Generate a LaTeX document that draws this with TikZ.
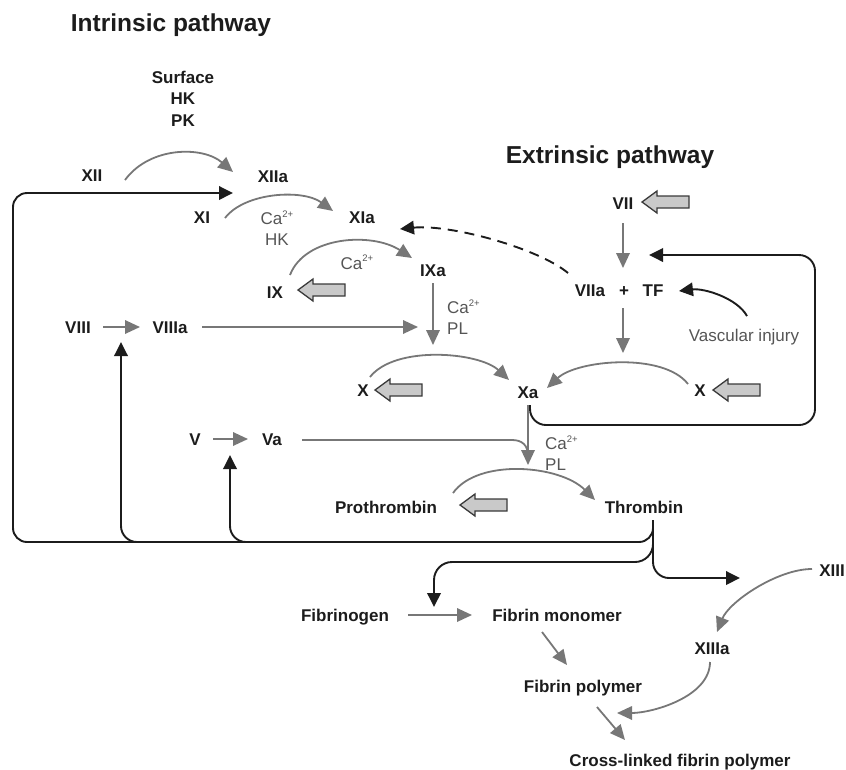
\documentclass[tikz,border=0pt]{standalone}
\usepackage{fontspec}
\setmainfont{Liberation Sans}
\usetikzlibrary{arrows.meta}
\newcommand\mysup[1]{\raisebox{0.42em}{\fontsize{9.5}{9.5}\selectfont #1}}
\definecolor{garr}{HTML}{777777}
\definecolor{barr}{HTML}{1C1C1C}
\definecolor{fatfill}{HTML}{C9C9C9}
\definecolor{fatline}{HTML}{3A3A3A}
\definecolor{smtxt}{HTML}{555555}
\begin{document}
\begin{tikzpicture}[x=1pt,y=-1pt,
  ttl/.style={font=\fontsize{24.5}{28}\selectfont\bfseries, text=barr, inner sep=0pt},
  lbl/.style={font=\fontsize{17}{21}\selectfont\bfseries, text=barr, inner sep=0pt, text height=12.2pt, text depth=0pt},
  lblm/.style={font=\fontsize{17}{21.5}\selectfont\bfseries, text=barr, inner sep=0pt, align=center},
  sm/.style={font=\fontsize{17}{21}\selectfont, text=smtxt, inner sep=0pt, text height=12.2pt, text depth=0pt},
  smm/.style={font=\fontsize{17}{20.5}\selectfont, text=smtxt, inner sep=0pt},
  garrow/.style={draw=garr, line width=1.8pt, -{Triangle[length=15pt,width=13.5pt]}},
  gline/.style={draw=garr, line width=1.8pt},
  barrow/.style={draw=barr, line width=1.9pt, -{Triangle[length=14pt,width=13.5pt]}},
  fatarrow/.pic={\draw[draw=fatline, fill=fatfill, line width=1.3pt, line join=miter]
     (0,0) -- (15,-11) -- (15,-6) -- (47,-6) -- (47,6) -- (15,6) -- (15,11) -- cycle;}
]
\useasboundingbox (0,0) rectangle (846,769);

% titles
\node[ttl] (tI) at (171,25) {Intrinsic pathway};
\node[ttl] (tE) at (610,157) {Extrinsic pathway};

% labels
\node[lblm] (surf) at (183,98.5) {Surface\\HK\\PK};
\node[lbl] (XII) at (92,175) {XII};
\node[lbl] (XIIa) at (273,176) {XIIa};
\node[lbl] (XI) at (202,217) {XI};
\node[lbl] (XIa) at (362,217) {XIa};
\node[smm, align=center] (ca1) at (277,228) {Ca\mysup{2+}\\HK};
\node[lbl] (IX) at (275,292) {IX};
\node[lbl] (IXa) at (433,270) {IXa};
\node[sm] (ca2) at (357,263) {Ca\mysup{2+}};
\node[smm, align=left, anchor=west] (ca3) at (447,317) {Ca\mysup{2+}\\PL};
\node[lbl] (VIII) at (78,327) {VIII};
\node[lbl] (VIIIa) at (170,327) {VIIIa};
\node[lbl] (Xl) at (363,390) {X};
\node[lbl] (Xa) at (528,392) {Xa};
\node[lbl] (Xr) at (700,390) {X};
\node[lbl] (VII) at (623,203) {VII};
\node[lbl] (VIIa) at (590,290) {VIIa};
\node[lbl] (plus) at (624,290) {+};
\node[lbl] (TF) at (653,290) {TF};
\node[sm] (VI) at (744,335) {Vascular injury};
\node[lbl] (V) at (195,439) {V};
\node[lbl] (Va) at (272,439) {Va};
\node[smm, align=left, anchor=west] (ca4) at (545,453) {Ca\mysup{2+}\\PL};
\node[lbl] (Pro) at (386,507) {Prothrombin};
\node[lbl] (Thr) at (644,507) {Thrombin};
\node[lbl] (Fgen) at (345,615) {Fibrinogen};
\node[lbl] (Fmono) at (557,615) {Fibrin monomer};
\node[lbl] (Fpoly) at (583,686) {Fibrin polymer};
\node[lbl] (Cross) at (680,760) {Cross-linked fibrin polymer};
\node[lbl] (XIII) at (832,570) {XIII};
\node[lbl] (XIIIa) at (712,648) {XIIIa};

% fat input arrows
\pic at (298,290) {fatarrow};
\pic at (375,390) {fatarrow};
\pic at (713,390) {fatarrow};
\pic at (642,202) {fatarrow};
\pic at (460,505) {fatarrow};

% gray reaction arrows
\draw[garrow] ([shift={(33,5)}]XII.center) .. controls +(25,-34) and +(-30,-26) .. ([shift={(-40,-4)}]XIIa.center);
\draw[garrow] ([shift={(23,1)}]XI.center) .. controls +(20,-26) and +(-30,-22) .. ([shift={(-29,-6)}]XIa.center);
\draw[garrow] ([shift={(15,-17)}]IX.center) .. controls +(15,-39) and +(-40,-26) .. ([shift={(-21,-12)}]IXa.center);
\draw[garrow] ([shift={(0,13)}]IXa.center) -- ([shift={(0,75)}]IXa.center);
\draw[garrow] ([shift={(25,0)}]VIII.center) -- ([shift={(-30,0)}]VIIIa.center);
\draw[garrow] ([shift={(32,0)}]VIIIa.center) -- ([shift={(-15,57)}]IXa.center);
\draw[garrow] ([shift={(7,-13)}]Xl.center) .. controls +(25,-32) and +(-30,-28) .. ([shift={(-19,-12)}]Xa.center);
\draw[garrow] ([shift={(-12,-6)}]Xr.center) .. controls +(-25,-32) and +(30,-28) .. ([shift={(19,-4)}]Xa.center);
\draw[garrow] ([shift={(0,20)}]VII.center) -- ([shift={(-1,-22)}]plus.center);
\draw[garrow] ([shift={(-1,18)}]plus.center) -- ([shift={(-1,63)}]plus.center);
\draw[garrow] ([shift={(18,0)}]V.center) -- ([shift={(-24,0)}]Va.center);
\draw[gline] ([shift={(30,1)}]Va.center) -- (512,440) .. controls (522,440) and (528,445) .. ([shift={(0,64)}]Xa.center);
\draw[garrow] ([shift={(0,13)}]Xa.center) -- ([shift={(0,73)}]Xa.center);
\draw[garrow] ([shift={(67,-14)}]Pro.center) .. controls +(25,-35) and +(-35,-35) .. ([shift={(-49,-7)}]Thr.center);
\draw[garrow] ([shift={(63,0)}]Fgen.center) -- ([shift={(-85,0)}]Fmono.center);
\draw[garrow] ([shift={(-15,17)}]Fmono.center) -- ([shift={(-16,-21)}]Fpoly.center);
\draw[garrow] ([shift={(14,21)}]Fpoly.center) -- ([shift={(-55,-20)}]Cross.center);
\draw[garrow] ([shift={(-20,-1)}]XIII.center) .. controls +(-35,0) and +(12,-30) .. ([shift={(5,-16)}]XIIIa.center);
\draw[garrow] ([shift={(-2,14)}]XIIIa.center) .. controls +(0,35) and +(35,0) .. ([shift={(-63,-47)}]Cross.center);

% black feedback arrows
\coordinate (br1) at (140,542);
\coordinate (br2) at (250,542);
\draw[barrow, rounded corners=14pt] ([shift={(9,13)}]Thr.center) -- (653,542) -- (13,542) -- (13,193) -- ([shift={(-40,17)}]XIIa.center);
\draw[barrow, rounded corners=16pt] (br1) -- (121,542) -- ([shift={(-49,15)}]VIIIa.center);
\draw[barrow, rounded corners=16pt] (br2) -- (230,542) -- ([shift={(-42,16)}]Va.center);
\draw[barrow, rounded corners=18pt] ([shift={(9,13)}]Thr.center) -- (653,562) -- (434,562) -- ([shift={(89,-8)}]Fgen.center);
\draw[barrow, rounded corners=16pt] ([shift={(9,13)}]Thr.center) -- (653,578) -- ([shift={(-92,8)}]XIII.center);
\draw[barrow, rounded corners=16pt] ([shift={(2,13)}]Xa.center) -- (530,425) -- (815,425) -- (815,255) -- ([shift={(25,-35)}]plus.center);
\draw[barrow] ([shift={(3,-19)}]VI.center) .. controls +(-10,-18) and +(25,-3) .. ([shift={(26,1)}]TF.center);
\draw[barrow, dash pattern=on 10pt off 7pt] ([shift={(-22,-17)}]VIIa.center) .. controls +(-30,-25) and +(50,-5) .. ([shift={(38,12)}]XIa.center);
\end{tikzpicture}
\end{document}
